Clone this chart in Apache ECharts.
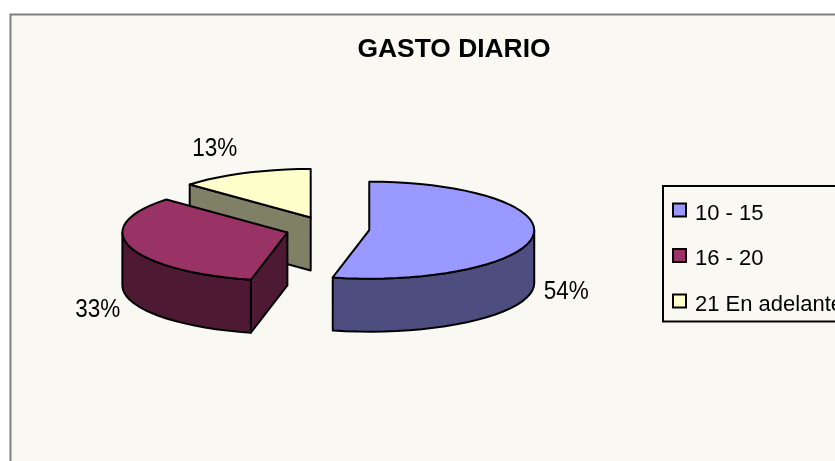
<!DOCTYPE html>
<html>
<head>
<meta charset="utf-8">
<style>html,body{margin:0;padding:0;background:#fff}#c{width:835px;height:461px}</style>
<script src="https://cdn.jsdelivr.net/npm/echarts@6/dist/echarts.min.js"></script>
</head>
<body>
<div id="c"></div>
<script>
const categories = ['10 - 15', '16 - 20', '21 En adelante'];
const values = [53.55, 33.35, 13.1];
const topColors = ['#9999FF', '#993366', '#FFFFCC'];
const wallColors = ['#4D4D80', '#4D1933', '#808066'];
const drawOrder = [2, 1, 0];

const pie = { cx: 327.5, cy: 228.8, a: 165, b: 48.5, depth: 53, explode: 42 };
const total = values.reduce((s, v) => s + v, 0);
const font = 'Liberation Sans, Arial, sans-serif';
const stroke = { stroke: '#000', lineWidth: 2, lineJoin: 'round' };

function arc(cx, cy, from, to, dy) {
  const pts = [];
  const n = Math.max(1, Math.ceil((to - from) / (Math.PI / 40)));
  for (let i = 0; i <= n; i++) {
    const t = from + (to - from) * i / n;
    pts.push([cx + pie.a * Math.sin(t), cy - pie.b * Math.cos(t) + dy]);
  }
  return pts;
}

function renderSlice(idx) {
  let acc = 0;
  for (let i = 0; i < idx; i++) acc += values[i];
  const start = acc / total * 2 * Math.PI;
  const end = (acc + values[idx]) / total * 2 * Math.PI;
  const mid = (start + end) / 2;
  const k = pie.b / pie.a;
  const cx = pie.cx + pie.explode * Math.sin(mid);
  const cy = pie.cy - pie.explode * k * Math.cos(mid);
  const children = [];
  const poly = (points, fill) => children.push({
    type: 'polygon', shape: { points }, style: Object.assign({ fill }, stroke)
  });

  // radial walls that face the viewer
  [[start, 1], [end, -1]].forEach(([t, side]) => {
    const p = [cx + pie.a * Math.sin(t), cy - pie.b * Math.cos(t)];
    const inward = t + side * 0.1;
    const q = [cx + pie.a * Math.sin(inward), cy - pie.b * Math.cos(inward)];
    const cross = (p[0] - cx) * (q[1] - cy) - (p[1] - cy) * (q[0] - cx);
    const interiorAbove = (p[0] - cx) * cross < 0;
    if (interiorAbove && Math.abs(p[0] - cx) > 1) {
      poly([[cx, cy], p, [p[0], p[1] + pie.depth], [cx, cy + pie.depth]], wallColors[idx]);
    }
  });

  // outer rim on the front half
  const from = Math.max(start, Math.PI / 2);
  const to = Math.min(end, 1.5 * Math.PI);
  if (to > from) {
    const upper = arc(cx, cy, from, to, 0);
    const lower = arc(cx, cy, from, to, pie.depth).reverse();
    poly(upper.concat(lower), wallColors[idx]);
  }

  // top face
  poly([[cx, cy]].concat(arc(cx, cy, start, end, 0)), topColors[idx]);

  // percentage label
  const ex = cx + pie.a * Math.sin(mid);
  const ey = cy - pie.b * Math.cos(mid);
  const front = Math.cos(mid) < 0;
  children.push({
    type: 'text',
    x: ex + (Math.sin(mid) > 0 ? 33 : front ? -32 : -30),
    y: ey + (front ? pie.depth - 1 - 38 * Math.cos(mid) : -24),
    scaleX: 0.9,
    style: {
      x: 0, y: 0,
      text: Math.round(values[idx] / total * 100) + '%',
      align: 'center', verticalAlign: 'middle',
      font: '25px ' + font, fill: '#000'
    }
  });
  return { type: 'group', children };
}

const series = drawOrder.map((idx, order) => ({
  type: 'custom',
  name: categories[idx],
  coordinateSystem: 'none',
  z: order + 2,
  silent: true,
  itemStyle: { color: topColors[idx] },
  data: [values[idx]],
  renderItem: () => renderSlice(idx)
}));

const chart = echarts.init(document.getElementById('c'), null, { renderer: 'canvas' });
chart.setOption({
  animation: false,
  backgroundColor: '#FFFFFF',
  graphic: [{
    type: 'rect', z: 0, silent: true,
    shape: { x: 10.5, y: 14.5, width: 1000, height: 1000 },
    style: { fill: '#F9F8F3', stroke: '#808080', lineWidth: 2 }
  }],
  title: {
    text: 'GASTO DIARIO', left: 449, top: 32, textAlign: 'center',
    textStyle: { fontFamily: font, fontWeight: 'bold', fontSize: 26.4, color: '#000' }
  },
  legend: {
    data: categories,
    orient: 'vertical', left: 663, top: 186,
    padding: [13, 12, 6, 9],
    itemWidth: 13, itemHeight: 13, itemGap: 20,
    backgroundColor: '#F9F8F3', borderColor: '#000', borderWidth: 2, borderRadius: 0,
    icon: 'rect', selectedMode: false,
    itemStyle: { borderColor: '#000', borderWidth: 2 },
    formatter: '{s|}{t|{name}}',
    textStyle: {
      rich: {
        s: { width: 4, lineHeight: 29, fontSize: 22, fontFamily: font },
        t: { fontFamily: font, fontSize: 22, color: '#000', lineHeight: 25, verticalAlign: 'bottom' }
      }
    }
  },
  series
});
</script>
</body>
</html>
